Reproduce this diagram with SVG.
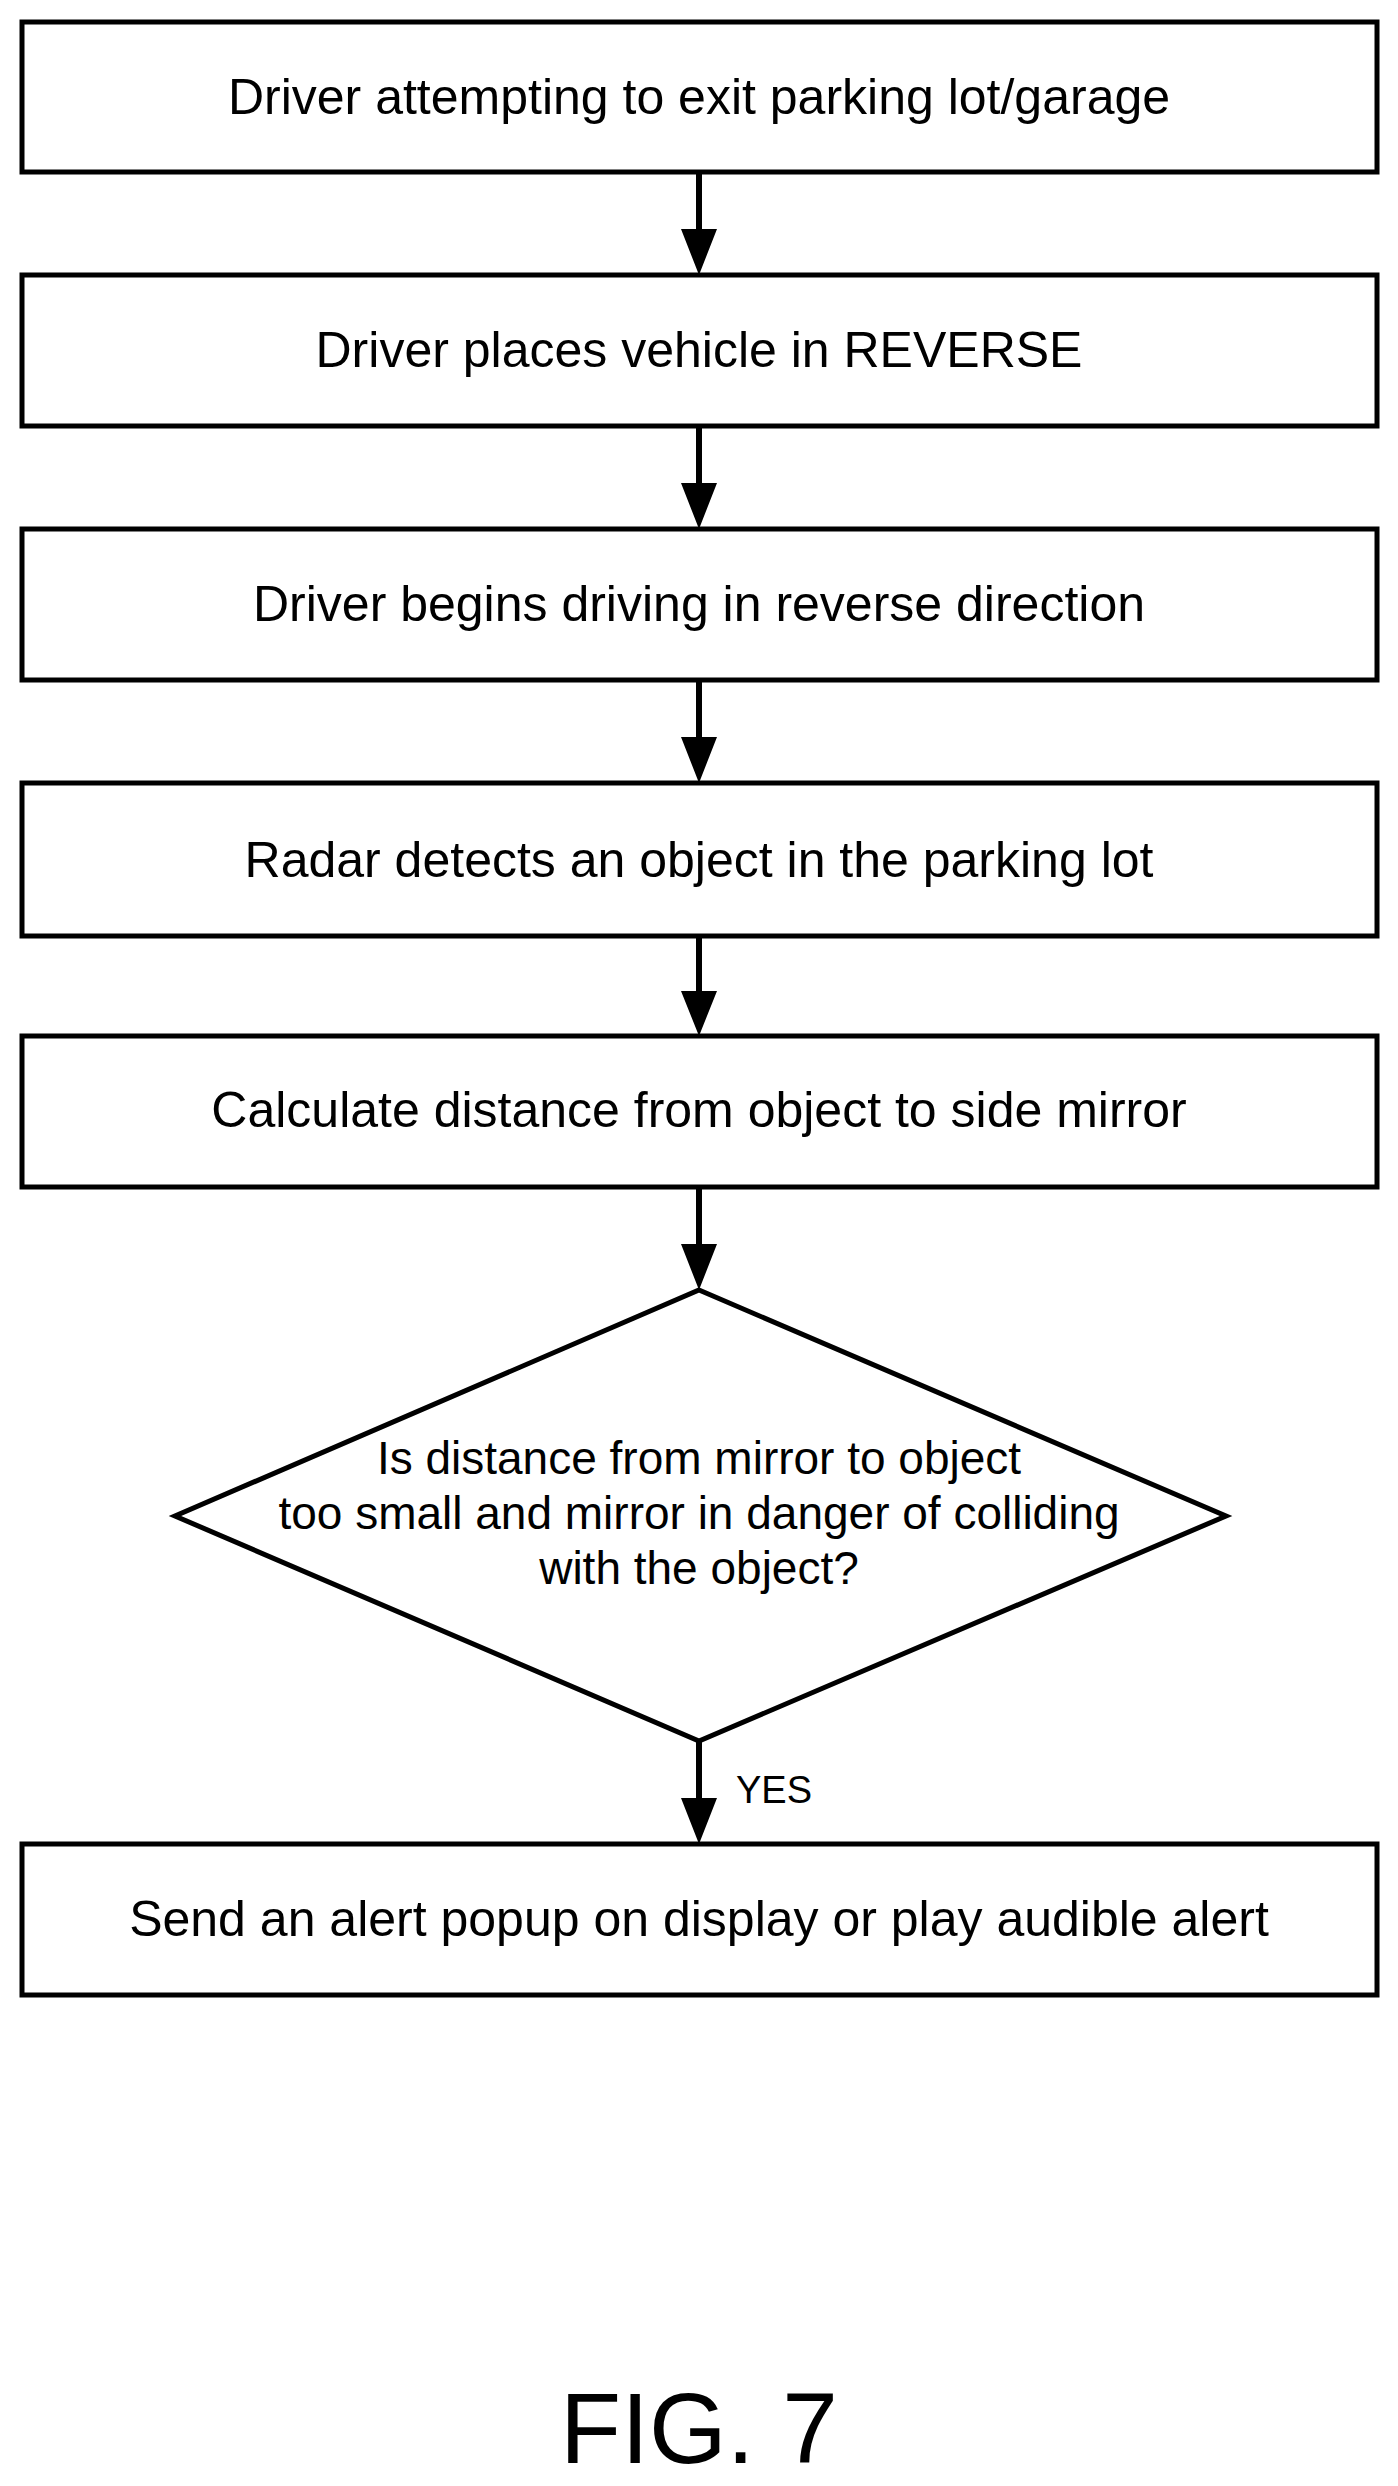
<svg xmlns="http://www.w3.org/2000/svg" width="1398" height="2486" viewBox="0 0 1398 2486">
<style>
.b{fill:#fff;stroke:#000;stroke-width:5}
.t{font-family:"Liberation Sans",Arial,sans-serif;font-size:50px;text-anchor:middle;dominant-baseline:central;fill:#000}
.d{font-size:46px}
.c{stroke:#000;stroke-width:6;fill:none}
</style>
<rect width="1398" height="2486" fill="#fff"/>
<g id="connectors">
<line class="c" x1="699" y1="172" x2="699" y2="229"/>
<line class="c" x1="699" y1="426" x2="699" y2="483"/>
<line class="c" x1="699" y1="680" x2="699" y2="737"/>
<line class="c" x1="699" y1="936" x2="699" y2="991"/>
<line class="c" x1="699" y1="1187" x2="699" y2="1244"/>
<line class="c" x1="699" y1="1741" x2="699" y2="1798"/>
<path d="M681,229 L717,229 L699,275 Z M681,483 L717,483 L699,529 Z M681,737 L717,737 L699,783 Z M681,991 L717,991 L699,1036 Z M681,1244 L717,1244 L699,1290 Z M681,1798 L717,1798 L699,1844 Z" fill="#000"/>
<text class="t" x="736" y="1790" style="text-anchor:start;font-size:38px">YES</text>
</g>
<g id="n1"><rect class="b" x="22" y="22" width="1355" height="150"/><text class="t" x="699" y="97">Driver attempting to exit parking lot/garage</text></g>
<g id="n2"><rect class="b" x="22" y="275" width="1355" height="151"/><text class="t" x="699" y="350">Driver places vehicle in REVERSE</text></g>
<g id="n3"><rect class="b" x="22" y="529" width="1355" height="151"/><text class="t" x="699" y="604">Driver begins driving in reverse direction</text></g>
<g id="n4"><rect class="b" x="22" y="783" width="1355" height="153"/><text class="t" x="699" y="860">Radar detects an object in the parking lot</text></g>
<g id="n5"><rect class="b" x="22" y="1036" width="1355" height="151"/><text class="t" x="699" y="1110">Calculate distance from object to side mirror</text></g>
<g id="d1"><polygon class="b" points="699,1290 1226,1516 699,1741 175,1516"/>
<text class="t d" x="699" y="1458">Is distance from mirror to object</text>
<text class="t d" x="699" y="1513">too small and mirror in danger of colliding</text>
<text class="t d" x="699" y="1568">with the object?</text></g>
<g id="n6"><rect class="b" x="22" y="1844" width="1355" height="151"/><text class="t" x="699" y="1919">Send an alert popup on display or play audible alert</text></g>
<text class="t" x="699" y="2428" style="font-size:100px">FIG. 7</text>
</svg>
